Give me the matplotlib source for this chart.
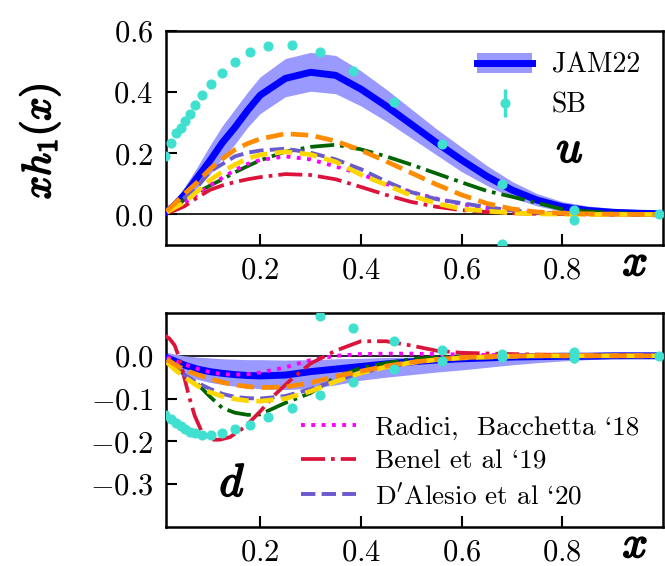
import matplotlib
matplotlib.use("Agg")
import matplotlib.pyplot as plt
import matplotlib.patheffects as pe
from matplotlib.patches import Patch
from matplotlib.lines import Line2D

plt.rcParams['font.family'] = ['cmr10', 'DejaVu Serif']
plt.rcParams['mathtext.fontset'] = 'cm'
plt.rcParams['axes.formatter.use_mathtext'] = True
plt.rcParams['axes.unicode_minus'] = True

# common x grid for the model curves
xg = [0.015, 0.03, 0.05, 0.075, 0.1, 0.125, 0.15, 0.175, 0.2, 0.25, 0.3, 0.35, 0.4,
      0.45, 0.5, 0.55, 0.6, 0.65, 0.7, 0.75, 0.8, 0.85, 0.9, 0.95, 1.0]

# ---- u quark ----
jam_u = [0.01, 0.03, 0.065, 0.12, 0.175, 0.235, 0.285, 0.34, 0.39, 0.445, 0.465, 0.455, 0.41,
         0.355, 0.295, 0.235, 0.178, 0.125, 0.08, 0.047, 0.025, 0.013, 0.007, 0.004, 0.002]
jam_u_hi = [0.015, 0.045, 0.09, 0.155, 0.225, 0.29, 0.345, 0.4, 0.45, 0.51, 0.53, 0.52, 0.47,
            0.41, 0.345, 0.28, 0.22, 0.16, 0.108, 0.068, 0.042, 0.028, 0.02, 0.016, 0.013]
jam_u_lo = [0.005, 0.018, 0.045, 0.088, 0.13, 0.185, 0.23, 0.285, 0.33, 0.385, 0.403, 0.395, 0.355,
            0.305, 0.25, 0.195, 0.14, 0.095, 0.055, 0.028, 0.01, 0.002, -0.003, -0.005, -0.006]
orange_u = [0.012, 0.035, 0.068, 0.105, 0.148, 0.182, 0.212, 0.232, 0.247, 0.264, 0.259, 0.24, 0.21,
            0.174, 0.136, 0.098, 0.064, 0.036, 0.018, 0.008, 0.004, 0.002, 0.001, 0.0, 0.0]
green_u = [0.008, 0.02, 0.05, 0.072, 0.094, 0.115, 0.138, 0.158, 0.177, 0.205, 0.221, 0.228, 0.213,
           0.19, 0.163, 0.134, 0.105, 0.077, 0.058, 0.038, 0.017, 0.01, 0.005, 0.002, 0.001]
slate_u = [0.01, 0.03, 0.055, 0.09, 0.14, 0.165, 0.19, 0.202, 0.209, 0.215, 0.202, 0.18, 0.148,
           0.108, 0.073, 0.05, 0.037, 0.024, 0.013, 0.006, 0.003, 0.001, 0.0, 0.0, 0.0]
gold_u = [0.008, 0.022, 0.04, 0.075, 0.112, 0.14, 0.163, 0.183, 0.195, 0.205, 0.196, 0.172, 0.13,
          0.097, 0.062, 0.036, 0.018, 0.011, 0.005, 0.002, 0.001, 0.0, 0.0, 0.0, 0.0]
magenta_u = [0.007, 0.02, 0.038, 0.065, 0.095, 0.12, 0.145, 0.165, 0.178, 0.19, 0.18, 0.157, 0.132,
             0.1, 0.073, 0.052, 0.034, 0.021, 0.012, 0.006, 0.003, 0.001, 0.0, 0.0, 0.0]
crimson_u = [0.005, 0.013, 0.027, 0.055, 0.08, 0.095, 0.106, 0.115, 0.122, 0.132, 0.129, 0.115, 0.09,
             0.064, 0.041, 0.025, 0.014, 0.008, 0.004, 0.002, 0.001, 0.0, 0.0, 0.0, 0.0]

# ---- d quark ----
jam_d = [-0.005, -0.012, -0.022, -0.031, -0.037, -0.041, -0.044, -0.046, -0.047, -0.045, -0.037,
         -0.031, -0.025, -0.019, -0.014, -0.01, -0.007, -0.005, -0.003, -0.002, -0.001, -0.001,
         0.0, 0.0, 0.0]
jam_d_hi = [0.008, 0.004, 0.0, -0.003, -0.005, -0.007, -0.008, -0.009, -0.009, -0.01, -0.009,
            -0.007, -0.006, -0.004, -0.003, -0.002, -0.001, 0.0, 0.002, 0.003, 0.003, 0.003,
            0.003, 0.003, 0.003]
jam_d_lo = [-0.018, -0.03, -0.045, -0.055, -0.062, -0.067, -0.071, -0.074, -0.077, -0.079, -0.076,
            -0.068, -0.057, -0.05, -0.044, -0.038, -0.033, -0.027, -0.021, -0.016, -0.012, -0.009,
            -0.007, -0.006, -0.005]
orange_d = [-0.008, -0.02, -0.033, -0.044, -0.053, -0.062, -0.068, -0.072, -0.074, -0.073, -0.063,
            -0.048, -0.036, -0.024, -0.015, -0.009, -0.004, -0.002, -0.001, 0.0, 0.0, 0.0, 0.0,
            0.0, 0.0]
slate_d = [-0.012, -0.028, -0.045, -0.063, -0.077, -0.089, -0.096, -0.099, -0.1, -0.094, -0.078,
           -0.058, -0.04, -0.026, -0.016, -0.009, -0.005, -0.003, -0.001, 0.0, 0.0, 0.0, 0.0,
           0.0, 0.0]
gold_d = [-0.015, -0.032, -0.05, -0.07, -0.085, -0.095, -0.101, -0.105, -0.106, -0.1, -0.083,
          -0.06, -0.04, -0.026, -0.016, -0.009, -0.005, -0.003, -0.001, 0.0, 0.0, 0.0, 0.0,
          0.0, 0.0]
green_d = [-0.008, -0.022, -0.045, -0.065, -0.095, -0.122, -0.133, -0.138, -0.137, -0.11, -0.087,
           -0.05, -0.028, -0.017, -0.008, -0.003, -0.001, 0.0, 0.0, 0.0, 0.0, 0.0, 0.0, 0.0, 0.0]
magenta_d = [-0.003, -0.01, -0.02, -0.03, -0.038, -0.043, -0.044, -0.043, -0.039, -0.027, -0.01,
             0.0, 0.004, 0.005, 0.005, 0.004, 0.003, 0.002, 0.001, 0.0, 0.0, 0.0, 0.0, 0.0, 0.0]
xc = [0.01, 0.02, 0.03, 0.04, 0.05, 0.06, 0.07, 0.085, 0.1, 0.12, 0.14, 0.17, 0.2, 0.23, 0.26,
      0.3, 0.35, 0.4, 0.45, 0.5, 0.55, 0.6, 0.7, 0.8, 0.9, 1.0]
crimson_d = [0.048, 0.04, 0.025, -0.007, -0.054, -0.1, -0.14, -0.18, -0.196, -0.196, -0.19,
             -0.166, -0.13, -0.09, -0.057, -0.018, 0.012, 0.034, 0.034, 0.024, 0.012, 0.007,
             0.004, 0.002, 0.001, 0.0]

# ---- SB points ----
sb_x = [0.012, 0.022, 0.032, 0.042, 0.051, 0.061, 0.071, 0.085, 0.103, 0.124, 0.150, 0.180,
        0.216, 0.263, 0.319, 0.385, 0.465, 0.562, 0.68, 0.824, 0.992]
sb_u = [0.19, 0.235, 0.268, 0.284, 0.305, 0.327, 0.357, 0.39, 0.426, 0.463, 0.498, 0.531,
        0.551, 0.555, 0.531, 0.468, 0.367, 0.231, 0.099, 0.013, 0.0]
sb_d = [-0.138, -0.148, -0.157, -0.165, -0.171, -0.177, -0.181, -0.184, -0.184, -0.181, -0.172,
        -0.161, -0.143, -0.121, -0.092, -0.061, -0.031, -0.011, -0.002, -0.004, 0.0]
sb_err = [0] * 18 + [0.008, 0.013, 0.0]
sb_u_x2 = [0.68, 0.824]
sb_u2 = [-0.096, -0.017]
sb_d_x2 = [0.319, 0.385, 0.465, 0.562, 0.68, 0.824]
sb_d2 = [0.094, 0.066, 0.035, 0.013, 0.005, 0.01]

c_band = (0.6, 0.6, 1.0)
c_sb = '#40e0d0'
ms = 6.3

fig = plt.figure(figsize=(6.65, 5.66), dpi=100)
ax1 = fig.add_axes([0.2496, 0.5671, 0.7474, 0.3781])
ax2 = fig.add_axes([0.2496, 0.0689, 0.7474, 0.3781])

bold = [pe.withStroke(linewidth=1.3, foreground='black')]


def draw(ax, jam, lo, hi, orange, green, slate, gold, magenta, crim_x, crim):
    ax.axhline(0, color='black', lw=1.2, zorder=1)
    ax.fill_between(xg, lo, hi, color=c_band, lw=0, zorder=2)
    ax.plot(xg, jam, color='blue', lw=5, zorder=3)
    ax.plot(xg, green, color='darkgreen', lw=2.7, ls='-.', zorder=4)
    ax.plot(xg, magenta, color='magenta', lw=2.8, ls=':', zorder=4)
    ax.plot(crim_x, crim, color='crimson', lw=2.7, ls='-.', zorder=4)
    ax.plot(xg, slate, color='slateblue', lw=2.8, ls='--', zorder=4)
    ax.plot(xg, gold, color='gold', lw=3.4, ls='--', zorder=4)
    ax.plot(xg, orange, color='darkorange', lw=3.4, ls='--', zorder=5)
    ax.set_xlim(0.013, 1.0)
    ax.set_xticks([0.2, 0.4, 0.6, 0.8])
    ax.tick_params(direction='in', length=8, width=1.5, labelsize=22, pad=9)
    for s in ax.spines.values():
        s.set_linewidth(1.8)
    ax.text(0.944, -0.09, '$x$', transform=ax.transAxes, fontsize=32,
            ha='center', va='center', path_effects=bold)


draw(ax1, jam_u, jam_u_lo, jam_u_hi, orange_u, green_u, slate_u, gold_u, magenta_u, xg, crimson_u)
draw(ax2, jam_d, jam_d_lo, jam_d_hi, orange_d, green_d, slate_d, gold_d, magenta_d, xc, crimson_d)

sb = ax1.errorbar(sb_x, sb_u, yerr=sb_err, fmt='o', color=c_sb, ms=ms, elinewidth=2.5,
                  capsize=0, zorder=6)
ax1.plot(sb_u_x2, sb_u2, 'o', color=c_sb, ms=ms, zorder=6)
ax2.errorbar(sb_x, sb_d, yerr=sb_err, fmt='o', color=c_sb, ms=ms, elinewidth=2.5,
             capsize=0, zorder=6)
ax2.plot(sb_d_x2, sb_d2, 'o', color=c_sb, ms=ms, zorder=6)

ax1.set_ylim(-0.1, 0.6)
ax1.set_yticks([0.0, 0.2, 0.4, 0.6])
ax2.set_ylim(-0.4, 0.1)
ax2.set_yticks([-0.3, -0.2, -0.1, 0.0])

ax1.text(0.815, 0.21, r'$u$', fontsize=33, ha='center', va='center', path_effects=bold)
ax2.text(0.145, -0.30, r'$d$', fontsize=33, ha='center', va='center', path_effects=bold)

fig.text(0.06, 0.75, r'$xh_1(x)$', rotation=90, fontsize=29, ha='center', va='center',
         path_effects=bold)

jam_handle = (Patch(facecolor=c_band, lw=0), Line2D([], [], color='blue', lw=5))
ax1.legend([jam_handle, sb], ['JAM22', 'SB'], loc='upper right', bbox_to_anchor=(0.982, 0.965),
           frameon=False, fontsize=20, handlelength=2.0, labelspacing=0.5, borderpad=0,
           handletextpad=0.7)

h2 = [Line2D([], [], color='magenta', lw=2.8, ls=':'),
      Line2D([], [], color='crimson', lw=2.7, ls='-.'),
      Line2D([], [], color='slateblue', lw=2.8, ls='--')]
ax2.legend(h2, ['Radici,  Bacchetta `18', 'Benel et al `19', r"D$'$Alesio et al `20"],
           loc='lower left', bbox_to_anchor=(0.245, 0.022), frameon=False, fontsize=19.6,
           handlelength=2.0, labelspacing=0.35, borderpad=0, handletextpad=0.7)

fig.savefig('out.png', dpi=100)
